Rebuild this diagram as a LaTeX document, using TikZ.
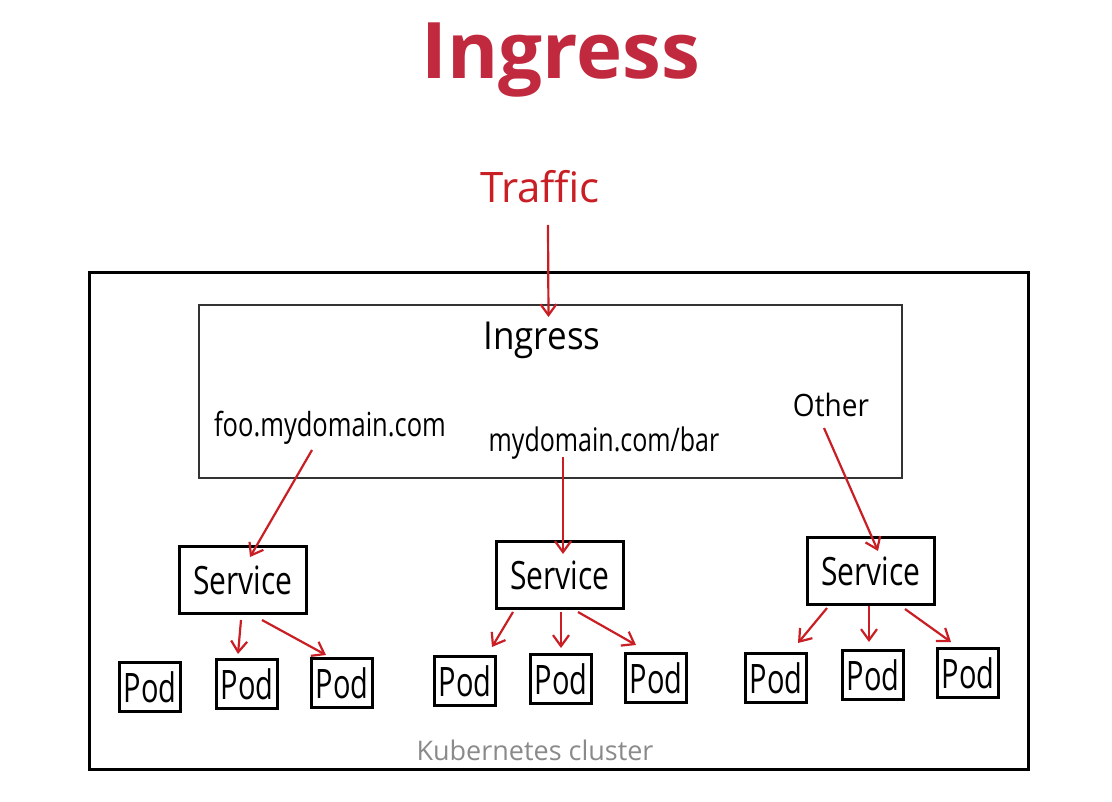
\documentclass[tikz,border=0pt]{standalone}
\usepackage{fontspec}
\setmainfont{Open Sans}
\usetikzlibrary{arrows.meta,calc}
\definecolor{titlered}{HTML}{C1293F}
\definecolor{arrred}{HTML}{C81E24}
\definecolor{boxgray}{HTML}{333333}
\definecolor{txtgray}{HTML}{8A8A8A}
\newcommand{\fs}[1]{\fontsize{#1}{#1}\selectfont}
\newcommand{\tall}[2]{\scalebox{1}[#1]{#2}}
\tikzset{
  hand/.style={inner sep=0pt, anchor=base},
  svcbox/.style={draw=black, line width=3pt, minimum width=127pt, minimum height=67pt, inner sep=0pt, font=\fs{30}},
  podbox/.style={draw=black, line width=3pt, minimum width=61pt, minimum height=49pt, inner sep=0pt, font=\fs{29}},
  redarrow/.style={draw=arrred, line width=2.2pt, -{Straight Barb[length=11pt,width=16pt,line width=2.2pt]}},
}
\begin{document}
\begin{tikzpicture}[x=1pt,y=-1pt]
\useasboundingbox (0,0) rectangle (1112,802);
% title
\node[hand, text=titlered, font=\fs{78}\bfseries] (title) at (561,79) {Ingress};
% cluster and ingress boxes
\node[draw=black, line width=3pt, minimum width=939pt, minimum height=497pt, inner sep=0pt] (cluster) at (558.5,521) {};
\node[draw=boxgray, line width=2pt, minimum width=703pt, minimum height=173pt, inner sep=0pt] (ingress) at (550.5,391.5) {};
% texts
\node[hand, text=arrred, font=\fs{42}] (traffic) at (540,203) {Traffic};
\node[hand, font=\fs{35}] (ingtxt) at (542,350) {\tall{1.1}{Ingress}};
\node[hand, font=\fs{25.5}] (foo) at (330,436) {\tall{1.3}{foo.mydomain.com}};
\node[hand, font=\fs{25}] (bar) at (604,451) {\tall{1.3}{mydomain.com/bar}};
\node[hand, font=\fs{28}] (other) at (831,417) {\tall{1.1}{Other}};
\node[hand, text=txtgray, font=\fs{27}] (k8s) at (535,760) {Kubernetes cluster};
% services
\node[svcbox] (svcL) at (243,580) {\tall{1.3}{Service}};
\node[svcbox] (svcM) at (560,575) {\tall{1.3}{Service}};
\node[svcbox] (svcR) at (871,571) {\tall{1.3}{Service}};
% pods
\node[podbox] (pL1) at (150,687) {\tall{1.4}{Pod}};
\node[podbox] (pL2) at (247,684) {\tall{1.4}{Pod}};
\node[podbox] (pL3) at (342,683) {\tall{1.4}{Pod}};
\node[podbox] (pM1) at (465,681) {\tall{1.4}{Pod}};
\node[podbox] (pM2) at (561,679) {\tall{1.4}{Pod}};
\node[podbox] (pM3) at (656,678) {\tall{1.4}{Pod}};
\node[podbox] (pR1) at (776,678) {\tall{1.4}{Pod}};
\node[podbox] (pR2) at (873,675) {\tall{1.4}{Pod}};
\node[podbox] (pR3) at (968,673) {\tall{1.4}{Pod}};
% arrow start points
\coordinate (tS) at (548,225);
\coordinate (fooS) at (312,450);
\coordinate (barS) at (563,457);
\coordinate (othS) at (824,428);
\coordinate (sL2) at (241,620);
\coordinate (sL3) at (262,620);
\coordinate (sM1) at (513,612);
\coordinate (sM2) at (561,612);
\coordinate (sM3) at (578,612);
\coordinate (sR1) at (827,608);
\coordinate (sR2) at (869,606);
\coordinate (sR3) at (905,609);
% arrows
\draw[redarrow] (tS) -- ($(ingress.north)+(-2,13)$);
\draw[redarrow] (fooS) -- ($(svcL.north)+(7,12)$);
\draw[redarrow] (barS) -- ($(svcM.north)+(3,14)$);
\draw[redarrow] (othS) -- ($(svcR.north)+(7,15)$);
\draw[redarrow] (sL2) -- ($(pL2.north)+(-9,-4)$);
\draw[redarrow] (sL3) -- ($(pL3.north)+(-16,-2)$);
\draw[redarrow] (sM1) -- ($(pM1.north)+(27,-8)$);
\draw[redarrow] (sM2) -- ($(pM2.north)+(0,-5)$);
\draw[redarrow] (sM3) -- ($(pM3.north)+(-20,-7)$);
\draw[redarrow] (sR1) -- ($(pR1.north)+(22,-9)$);
\draw[redarrow] (sR2) -- ($(pR2.north)+(-4,-7)$);
\draw[redarrow] (sR3) -- ($(pR3.north)+(-17,-5)$);
\end{tikzpicture}
\end{document}
